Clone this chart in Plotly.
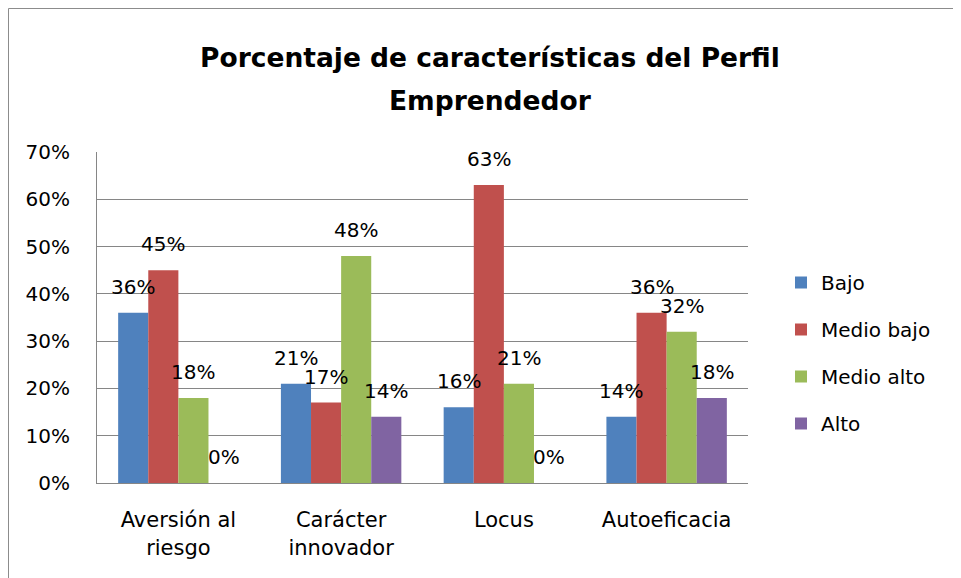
import plotly.graph_objects as go

categories = ["Aversión al<br>riesgo", "Carácter<br>innovador", "Locus", "Autoeficacia"]
series_names = ["Bajo", "Medio bajo", "Medio alto", "Alto"]
bajo = [0.36, 0.21, 0.16, 0.14]
medio_bajo = [0.45, 0.17, 0.63, 0.36]
medio_alto = [0.18, 0.48, 0.21, 0.32]
alto = [0.00, 0.14, 0.00, 0.18]
y_ticks = [0, 0.1, 0.2, 0.3, 0.4, 0.5, 0.6, 0.7]
colors = ["#4F81BD", "#C0504D", "#9BBB59", "#8064A2"]
title_lines = ["Porcentaje de características del Perfil", "Emprendedor"]

FONT = "DejaVu Sans"
OFF = 8  # page body margin
W, H = 961 - OFF, 578 - OFF
L, R, T, B = 97 - OFF, 961 - 748, 152 - OFF, 578 - 483
bargap = 0.26

values = [bajo, medio_bajo, medio_alto, alto]
xs = list(range(len(categories)))
fig = go.Figure()
for j, (name, vals) in enumerate(zip(series_names, values)):
    fig.add_trace(go.Bar(
        x=xs, y=vals, name=name, marker=dict(color=colors[j], line=dict(width=0)),
        legendgroup=name,
    ))

bw = (1 - bargap) / len(series_names)
for j, vals in enumerate(values):
    off = (j - (len(series_names) - 1) / 2) * bw
    for i, v in enumerate(vals):
        fig.add_annotation(x=xs[i] + off, y=v, text=f"{round(v*100)}%",
                           showarrow=False, yshift=26, yanchor="middle",
                           font=dict(family=FONT, size=20, color="#000"))

pw = W - L - R
ph = H - T - B
def px(x):
    return (x - OFF - L) / pw
def py(y):
    return 1 - (y - OFF - T) / ph

for line, yy in zip(title_lines, [58, 100]):
    fig.add_annotation(xref="paper", yref="paper", x=px(490), y=py(yy), text=f"<b>{line}</b>",
                       showarrow=False, xanchor="center", yanchor="middle",
                       font=dict(family=FONT, size=26.5, color="#000"))

fig.add_shape(type="line", xref="paper", yref="paper", x0=px(8.5), x1=px(8.5), y0=py(8.5), y1=py(600),
              line=dict(color="#8c8c8c", width=1))
fig.add_shape(type="line", xref="paper", yref="paper", x0=px(8.5), x1=px(1000), y0=py(8.5), y1=py(8.5),
              line=dict(color="#8c8c8c", width=1))

fig.update_layout(
    width=W, height=H,
    margin=dict(l=L, r=R, t=T, b=B),
    paper_bgcolor="white", plot_bgcolor="white",
    barmode="group", bargap=bargap, bargroupgap=0,
    font=dict(family=FONT, size=20, color="#000"),
    legend=dict(x=px(781), xanchor="left", y=py(263), yanchor="top",
                font=dict(family=FONT, size=20), tracegroupgap=18,
                traceorder="grouped", itemwidth=30),
    xaxis=dict(tickmode="array", tickvals=xs, ticktext=categories, range=[-0.5, 3.5],
               showline=True, linecolor="#868686", linewidth=1, showgrid=False,
               ticks="outside", ticklen=18, tickcolor="rgba(0,0,0,0)",
               tickfont=dict(family=FONT, size=21), zeroline=False),
    yaxis=dict(tickmode="array", tickvals=y_ticks, tickformat=".0%", range=[0, 0.7],
               showline=True, linecolor="#868686", linewidth=1,
               showgrid=True, gridcolor="#868686", gridwidth=1,
               ticks="outside", ticklen=22, tickcolor="rgba(0,0,0,0)",
               tickfont=dict(family=FONT, size=20), zeroline=False),
)

fig.write_html("out.html")
